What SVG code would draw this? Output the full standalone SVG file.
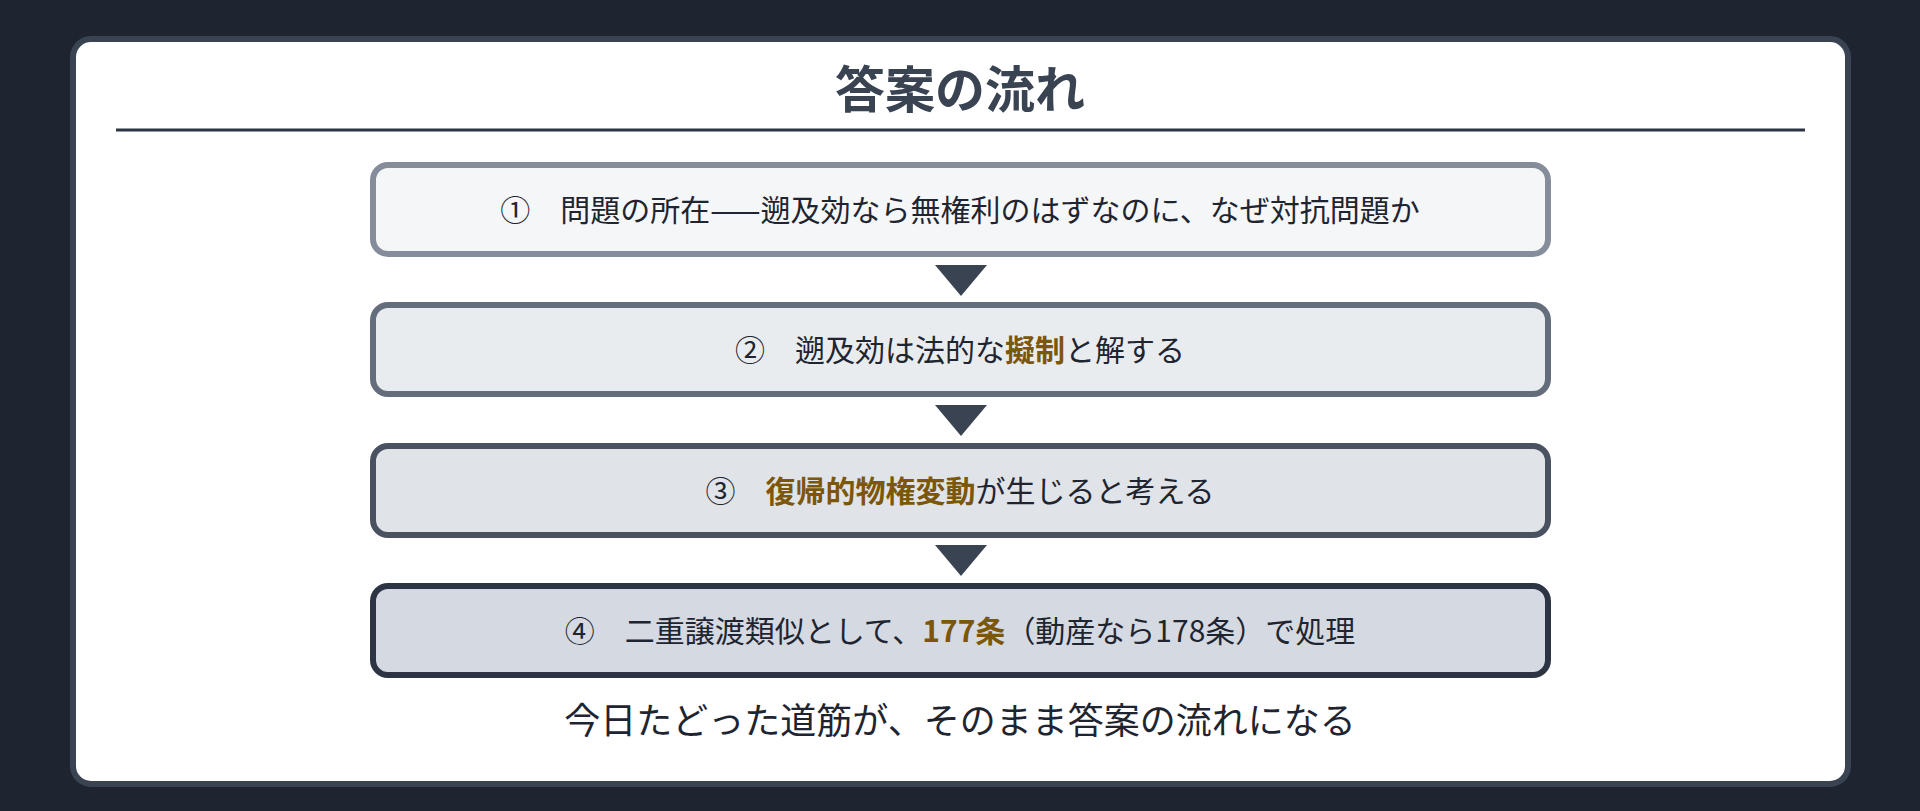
<svg xmlns="http://www.w3.org/2000/svg" width="1920" height="811" viewBox="0 0 1920 811">
<style>
text{font-family:"Noto Sans CJK JP","Noto Sans",sans-serif;dominant-baseline:central;text-anchor:middle}
.title{font-size:50px;font-weight:700;fill:#3a4352}
.step{font-size:30px;fill:#1f2530}
.hl{font-weight:700;fill:#7c5609}
.foot{font-size:36px;fill:#1f2530}
.arrow{fill:#3a4352}
</style>
<rect x="0" y="0" width="1920" height="811" fill="#1e2530"/>
<rect x="73" y="39" width="1775" height="745" rx="18" fill="#ffffff" stroke="#3a4352" stroke-width="6"/>
<g id="title">
<text class="title" x="960" y="86">答案の流れ</text>
<line x1="116" y1="130" x2="1805" y2="130" stroke="#2d3443" stroke-width="3"/>
</g>
<g id="step1">
<rect x="373" y="165" width="1175" height="89" rx="15" fill="#f5f6f8" stroke="#858d9b" stroke-width="6"/>
<text class="step" x="960" y="208">①　問題の所在——遡及効なら無権利のはずなのに、なぜ対抗問題か</text>
</g>
<g id="step2">
<rect x="373" y="305" width="1175" height="89" rx="15" fill="#e9ecef" stroke="#646d7c" stroke-width="6"/>
<text class="step" x="960" y="348">②　遡及効は法的な<tspan class="hl">擬制</tspan>と解する</text>
</g>
<g id="step3">
<rect x="373" y="446" width="1175" height="89" rx="15" fill="#e0e3e8" stroke="#4a5262" stroke-width="6"/>
<text class="step" x="960" y="489">③　<tspan class="hl">復帰的物権変動</tspan>が生じると考える</text>
</g>
<g id="step4">
<rect x="373" y="586" width="1175" height="89" rx="15" fill="#d5d9e1" stroke="#2d3443" stroke-width="6"/>
<text class="step" x="960" y="629">④　二重譲渡類似として、<tspan class="hl">177条</tspan>（動産なら178条）で処理</text>
</g>
<g id="connectors">
<polygon class="arrow" points="935,265 987,265 961,296"/>
<polygon class="arrow" points="935,405 987,405 961,436"/>
<polygon class="arrow" points="935,545 987,545 961,576"/>
</g>
<g id="footer">
<text class="foot" x="960" y="718">今日たどった道筋が、そのまま答案の流れになる</text>
</g>
</svg>
